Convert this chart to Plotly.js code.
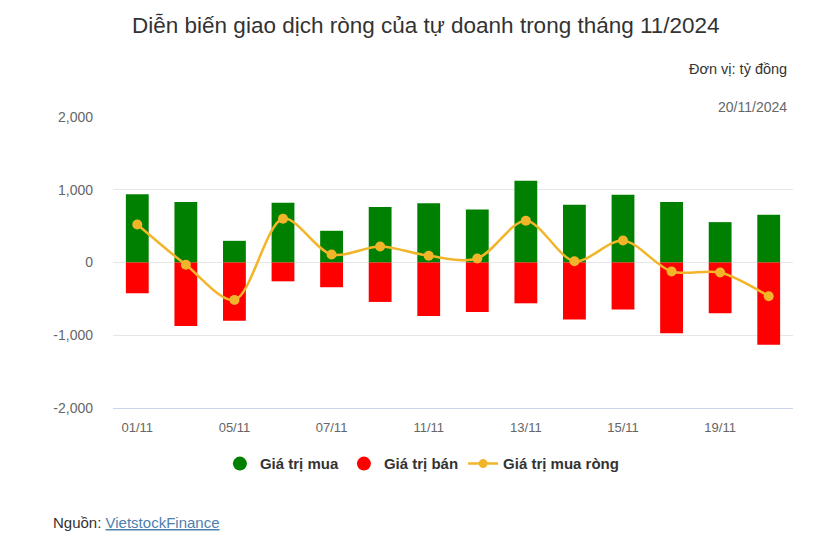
<!DOCTYPE html>
<html>
<head>
<meta charset="utf-8">
<script src="https://cdn.plot.ly/plotly-3.0.1.min.js"></script>
<style>
html,body{margin:0;padding:0;background:#fff;}
#chart{width:835px;height:555px;}
</style>
</head>
<body>
<div id="chart"></div>
<script>
const dates = ['01/11','04/11','05/11','06/11','07/11','08/11','11/11','12/11','13/11','14/11','15/11','18/11','19/11','20/11'];
const buyValues = [937, 831, 298, 822, 436, 762, 813, 730, 1125, 794, 932, 831, 555, 657];
const sellValues = [-423, -872, -799, -259, -340, -542, -735, -680, -561, -785, -647, -973, -698, -1129];
const netValues = [523, -32, -514, 602, 110, 220, 92, 55, 574, 18, 303, -124, -138, -464];
const tickDates = ['01/11','05/11','07/11','11/11','13/11','15/11','19/11'];
const yTicks = [-2000, -1000, 0, 1000, 2000];
const yTickText = ['-2,000', '-1,000', '0', '1,000', '2,000'];

const seriesNames = ['Giá trị mua', 'Giá trị bán', 'Giá trị mua ròng'];
const GREEN = '#008000', RED = '#ff0000', GOLD = '#f2b52a';

const traces = [
  {type:'bar', x:dates, y:buyValues, name:seriesNames[0], marker:{color:GREEN}, showlegend:false, hoverinfo:'y'},
  {type:'bar', x:dates, y:sellValues, name:seriesNames[1], marker:{color:RED}, showlegend:false, hoverinfo:'y'},
  {type:'scatter', mode:'lines+markers', x:dates, y:netValues, name:seriesNames[2],
   line:{color:GOLD, width:2.5, shape:'spline', smoothing:0.9},
   marker:{color:GOLD, size:10, symbol:'circle'}, showlegend:false},
  // legend entries
  {type:'scatter', mode:'markers', x:[null], y:[null], name:seriesNames[0], marker:{color:GREEN, size:14, symbol:'circle'}},
  {type:'scatter', mode:'markers', x:[null], y:[null], name:seriesNames[1], marker:{color:RED, size:14, symbol:'circle'}},
  {type:'scatter', mode:'lines+markers', x:[null], y:[null], name:seriesNames[2], line:{color:GOLD, width:2.5}, marker:{color:GOLD, size:9}}
];

const layout = {
  width:835, height:555,
  margin:{l:113, r:42, t:117, b:147},
  paper_bgcolor:'#fff', plot_bgcolor:'#fff',
  font:{family:'"Liberation Sans", Arial, sans-serif', color:'#333'},
  barmode:'relative',
  bargap:0.53,
  title:{text:'Diễn biến giao dịch ròng của tự doanh trong tháng 11/2024',
         font:{size:22.5, color:'#333', family:'"Liberation Sans", Arial, sans-serif'},
         x:0.51, xanchor:'center', xref:'container', y:0.955, yanchor:'middle', yref:'container'},
  xaxis:{type:'category', categoryorder:'array', categoryarray:dates,
         range:[-0.5, dates.length-0.5],
         tickmode:'array', tickvals:tickDates, ticktext:tickDates,
         tickfont:{size:13, color:'#666'}, ticks:'', showgrid:false, ticklabelstandoff:7,
         showline:true, linecolor:'#ccd6eb', linewidth:1, fixedrange:true},
  yaxis:{range:[-2000, 2000], tickmode:'array', tickvals:yTicks, ticktext:yTickText,
         tickfont:{size:14, color:'#666'}, showgrid:true, gridcolor:'#e6e6e6', gridwidth:1,
         zeroline:false, ticks:'', ticklabelstandoff:19, fixedrange:true},
  showlegend:true,
  legend:{orientation:'h', x:0.455, xanchor:'center', y:-0.192, yanchor:'middle',
          font:{size:15, color:'#333', weight:700}, itemclick:false, traceorder:'normal'},
  annotations:[
    {text:'Đơn vị: tỷ đồng', xref:'paper', yref:'paper', x:0.994, y:1.165, xanchor:'right', yanchor:'middle',
     showarrow:false, font:{size:14.5, color:'#333'}},
    {text:'20/11/2024', xref:'paper', yref:'paper', x:0.994, y:1.034, xanchor:'right', yanchor:'middle',
     showarrow:false, font:{size:14, color:'#666'}},
    {text:'Nguồn: <span style="color:#4e7fae"><u>VietstockFinance</u></span>', xref:'paper', yref:'paper',
     x:-0.091, y:-0.395, xanchor:'left', yanchor:'middle', showarrow:false, font:{size:15, color:'#333'}}
  ]
};

Plotly.newPlot('chart', traces, layout, {displayModeBar:false, staticPlot:false});
</script>
</body>
</html>
